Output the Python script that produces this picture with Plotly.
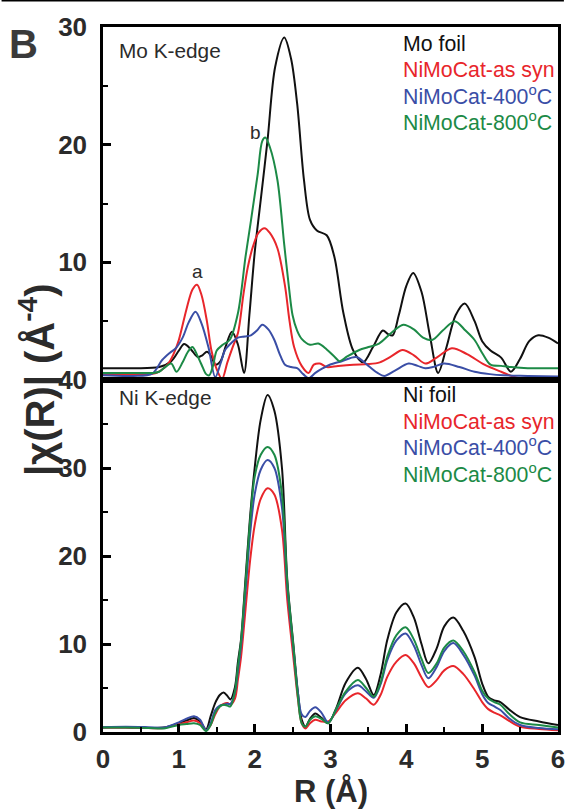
import plotly.graph_objects as go
from plotly.subplots import make_subplots

# ---------------- Mo K-edge (upper panel) ----------------
mo_foil_r = [0.0, 0.4, 0.74, 0.9, 1.0, 1.07, 1.16, 1.25, 1.31, 1.37, 1.43, 1.48, 1.55, 1.62, 1.7,
             1.78, 1.86, 1.93, 2.0, 2.08, 2.17, 2.27, 2.39, 2.48, 2.56, 2.65, 2.73, 2.82, 2.95, 3.05,
             3.17, 3.3, 3.43, 3.56, 3.69, 3.76, 3.82, 3.9, 4.0, 4.09, 4.2, 4.31, 4.42, 4.53, 4.65,
             4.77, 4.9, 5.0, 5.11, 5.25, 5.38, 5.5, 5.62, 5.74, 5.87, 6.0]
mo_foil_v = [1.0, 1.0, 1.1, 1.6, 2.5, 3.05, 2.6, 1.95, 2.1, 2.4, 2.0, 1.3, 1.6, 2.9, 4.1,
             3.0, 0.6, 5.5, 10.8, 15.3, 20.4, 26.6, 29.1, 27.3, 23.5, 17.0, 13.6, 12.7, 12.3, 10.5,
             5.7, 2.5, 1.5, 2.8, 4.2, 3.9, 3.8, 5.5, 8.0, 9.1, 7.5, 3.8, 0.6, 2.8, 5.5,
             6.5, 5.0, 3.3, 2.5, 1.9, 0.7, 1.8, 3.3, 3.8, 3.6, 3.1]

mo_assyn_r = [0.0, 0.4, 0.7, 0.85, 0.93, 1.0, 1.1, 1.18, 1.24, 1.3, 1.37, 1.43, 1.5, 1.57, 1.64,
              1.71, 1.78, 1.85, 1.91, 1.98, 2.05, 2.13, 2.2, 2.3, 2.4, 2.46, 2.52, 2.62, 2.71, 2.78,
              2.86, 2.95, 3.1, 3.3, 3.5, 3.65, 3.8, 3.95, 4.1, 4.25, 4.4, 4.6, 4.8, 5.03, 5.25,
              5.46, 5.7, 6.0]
mo_assyn_v = [0.5, 0.5, 0.6, 1.3, 2.2, 3.4, 6.0, 7.7, 8.1, 7.2, 5.0, 2.5, 0.9, 0.1, 1.5,
              2.8, 4.0, 7.2, 9.6, 11.4, 12.5, 12.9, 12.5, 11.2, 8.0, 5.0, 2.8, 1.2, 0.6, 1.3,
              1.4, 1.1, 1.2, 1.3, 1.35, 1.5, 2.0, 2.55, 2.1, 1.4, 1.9, 2.7, 2.2, 1.3, 0.7,
              0.2, 0.25, 0.25]

mo_400_r = [0.0, 0.4, 0.65, 0.78, 0.88, 0.96, 1.05, 1.13, 1.22, 1.3, 1.39, 1.48, 1.55, 1.61, 1.7,
            1.78, 1.87, 1.95, 2.03, 2.1, 2.18, 2.26, 2.33, 2.4, 2.48, 2.56, 2.64, 2.71, 2.8, 2.9,
            2.99, 3.15, 3.34, 3.5, 3.62, 3.71, 3.85, 4.03, 4.15, 4.25, 4.35, 4.5, 4.7, 4.9, 5.1,
            5.28, 5.6, 6.0]
mo_400_v = [0.4, 0.35, 0.55, 1.7, 2.3, 2.7, 3.6, 4.9, 5.8, 4.8, 2.8, 0.25, 1.4, 2.55, 3.2,
            3.6, 3.7, 3.8, 4.2, 4.7, 4.3, 3.4, 2.2, 1.3, 1.1, 1.0, 0.5, 0.15, 0.6, 1.0,
            1.3, 1.6, 1.95, 1.2, 0.6, 0.35, 0.8, 1.4, 1.2, 1.0, 1.1, 1.4, 1.1, 0.7, 0.5,
            0.4, 0.35, 0.3]

mo_800_r = [0.0, 0.4, 0.66, 0.74, 0.82, 0.9, 0.97, 1.05, 1.12, 1.18, 1.25, 1.3, 1.36, 1.4, 1.45,
            1.5, 1.58, 1.67, 1.78, 1.88, 1.95, 2.04, 2.1, 2.14, 2.2, 2.3, 2.39, 2.45, 2.5, 2.56,
            2.62, 2.73, 2.84, 2.95, 3.05, 3.12, 3.22, 3.38, 3.5, 3.64, 3.8, 3.96, 4.1, 4.22, 4.34,
            4.48, 4.64, 4.78, 4.9, 5.0, 5.11, 5.25, 5.38, 5.6, 6.0]
mo_800_v = [0.6, 0.6, 0.6, 0.7, 1.1, 1.4, 0.7, 1.5, 2.4, 2.8, 2.0, 1.3, 0.5, 0.4, 1.2,
            2.5, 3.0, 3.4, 5.7, 10.5, 13.5, 17.5, 20.3, 20.6, 19.8, 17.0, 11.5, 8.0, 5.5, 4.2,
            3.5, 3.0, 3.1, 2.6, 2.0, 1.6, 2.0, 2.55, 2.8, 3.1, 4.0, 4.7, 4.3, 3.6, 3.4,
            4.2, 5.0, 4.2, 3.4, 2.3, 1.3, 1.2, 1.1, 1.0, 1.0]

# ---------------- Ni K-edge (lower panel) ----------------
ni_r = [0.0, 0.3, 0.6, 0.8, 1.0, 1.1, 1.2, 1.28, 1.36, 1.42, 1.48, 1.54, 1.59, 1.64, 1.68,
        1.74, 1.78, 1.82, 1.88, 1.94, 2.0, 2.08, 2.17, 2.26, 2.36, 2.43, 2.51, 2.57, 2.62, 2.67,
        2.73, 2.8, 2.88, 2.97, 3.08, 3.2, 3.36, 3.47, 3.57, 3.66, 3.75, 3.87, 3.99, 4.1, 4.2,
        4.29, 4.4, 4.5, 4.62, 4.75, 4.9, 5.0, 5.08, 5.16, 5.24, 5.35, 5.5, 5.75, 6.0]
ni_foil_v = [0.5, 0.5, 0.45, 0.5, 1.0, 1.3, 1.6, 1.2, 0.3, 1.8, 3.3, 4.2, 4.5, 4.1, 3.7,
             5.1, 8.0, 10.5, 17.5, 24.5, 30.0, 35.5, 38.3, 36.5, 30.0, 17.3, 10.0, 4.5, 1.4, 0.6,
             1.5, 2.1, 1.6, 1.0, 2.8, 5.6, 7.3, 6.0, 4.2, 6.5, 10.5, 13.6, 14.6, 13.0, 10.0,
             7.8, 9.5, 12.0, 13.0, 11.5, 8.5, 5.5, 4.0, 3.6, 3.4, 2.6, 1.7, 1.2, 0.8]
ni_assyn_v = [0.5, 0.5, 0.45, 0.45, 0.9, 1.1, 1.3, 1.0, 0.2, 0.8, 2.0, 2.9, 3.2, 3.3, 3.1,
              3.8, 6.0, 8.5, 14.0, 19.5, 23.5, 26.5, 27.7, 27.0, 23.0, 15.0, 8.5, 3.8, 1.0, 0.4,
              1.0, 1.4, 1.2, 1.2, 2.3, 3.6, 4.4, 3.8, 3.1, 4.2, 6.3, 8.0, 8.75, 7.8, 6.2,
              5.1, 5.9, 7.0, 7.5, 6.6, 4.8, 3.4, 2.6, 2.2, 1.9, 1.3, 0.6, 0.35, 0.2]
ni_400_v = [0.55, 0.6, 0.55, 0.5, 1.1, 1.5, 1.8, 1.4, 0.2, 1.0, 2.5, 3.0, 3.1, 3.2, 3.2,
            4.5, 7.0, 9.8, 16.0, 22.5, 27.0, 29.8, 30.9, 30.0, 25.5, 16.5, 9.5, 4.5, 2.0, 1.7,
            2.4, 2.8, 2.2, 1.1, 2.6, 4.4, 5.3, 4.6, 3.9, 5.4, 8.2, 10.4, 11.2, 9.8, 7.6,
            6.1, 7.4, 9.2, 10.1, 8.8, 6.4, 4.3, 3.3, 2.9, 2.5, 1.6, 0.8, 0.45, 0.3]
ni_800_v = [0.5, 0.5, 0.45, 0.4, 0.8, 0.9, 1.0, 0.8, 0.1, 0.8, 2.2, 2.9, 3.1, 3.0, 2.9,
            4.6, 7.5, 10.3, 17.0, 24.0, 29.0, 31.5, 32.4, 31.5, 27.0, 17.0, 9.8, 4.0, 1.0, 0.6,
            1.4, 1.8, 1.5, 1.0, 2.7, 4.6, 5.9, 5.0, 4.0, 5.6, 8.6, 11.0, 11.9, 10.5, 8.3,
            6.7, 7.8, 9.6, 10.4, 9.2, 6.8, 4.7, 3.8, 3.4, 3.1, 2.1, 1.1, 0.8, 0.5]

mo_names = ["Mo foil", "NiMoCat-as syn", "NiMoCat-400<sup>o</sup>C", "NiMoCat-800<sup>o</sup>C"]
ni_names = ["Ni foil", "NiMoCat-as syn", "NiMoCat-400<sup>o</sup>C", "NiMoCat-800<sup>o</sup>C"]
x_ticks = [0, 1, 2, 3, 4, 5, 6]

BLACK = "#111111"
RED = "#e8262b"
BLUE = "#3a4ea6"
GREEN = "#1c8a46"
colors = [BLACK, RED, BLUE, GREEN]
TEXT = "#2b2b2b"
FONT = "Liberation Sans, Arial, sans-serif"

# plot area in pixels: x 103..565, y 27..732
W, H = 571, 811
ML, MR, MT, MB = 103, 6, 27, 79
PW, PH = W - ML - MR, H - MT - MB
split = (732 - 380) / PH

fig = make_subplots(rows=2, cols=1, shared_xaxes=True, vertical_spacing=0)

mo_series = [(mo_foil_r, mo_foil_v), (mo_assyn_r, mo_assyn_v), (mo_400_r, mo_400_v), (mo_800_r, mo_800_v)]
for (r, v), c, n in zip(mo_series, colors, mo_names):
    fig.add_trace(go.Scatter(x=r, y=v, mode="lines", name=n, showlegend=False,
                             line=dict(color=c, width=2, shape="spline", smoothing=0.9)),
                  row=1, col=1)

ni_series = [ni_foil_v, ni_assyn_v, ni_400_v, ni_800_v]
for v, c, n in zip(ni_series, colors, ni_names):
    fig.add_trace(go.Scatter(x=ni_r, y=v, mode="lines", name=n, showlegend=False,
                             line=dict(color=c, width=2, shape="spline", smoothing=0.9)),
                  row=2, col=1)

axis_line = dict(showline=True, linecolor="black", linewidth=2.5, mirror=True,
                 showgrid=False, zeroline=False)
tickfont = dict(family=FONT, size=26, color=TEXT, weight="bold")

fig.update_xaxes(range=[0, 6], **axis_line)
fig.update_xaxes(ticks="", showticklabels=False, row=1, col=1)
fig.update_xaxes(tickvals=x_ticks, ticks="inside", ticklen=8, tickwidth=2.5, tickcolor="black",
                 minor=dict(ticks="inside", ticklen=5, tickwidth=2, tickcolor="black", dtick=0.5, tick0=0),
                 tickfont=tickfont, ticklabelstandoff=2, row=2, col=1)

fig.update_yaxes(**axis_line)
fig.update_yaxes(range=[0, 30], domain=[split, 1], tickvals=[10, 20, 30], ticks="inside",
                 ticklen=8, tickwidth=2.5, tickcolor="black",
                 minor=dict(ticks="inside", ticklen=5, tickwidth=2, tickcolor="black", tickvals=[5, 15, 25]),
                 tickfont=tickfont, ticklabelstandoff=8, row=1, col=1)
fig.update_yaxes(range=[0, 40], domain=[0, split], tickvals=[0, 10, 20, 30, 40], ticks="inside",
                 ticklen=8, tickwidth=2.5, tickcolor="black",
                 minor=dict(ticks="inside", ticklen=5, tickwidth=2, tickcolor="black", tickvals=[5, 15, 25, 35]),
                 tickfont=tickfont, ticklabelstandoff=8, row=2, col=1)

ann = []
# panel labels
ann.append(dict(x=0.18, y=28.0, xref="x", yref="y", text="Mo K-edge", showarrow=False,
                xanchor="left", yanchor="middle", font=dict(family=FONT, size=20.8, color=TEXT)))
ann.append(dict(x=0.18, y=38.0, xref="x2", yref="y2", text="Ni K-edge", showarrow=False,
                xanchor="left", yanchor="middle", font=dict(family=FONT, size=20.8, color=TEXT)))
# peak markers
ann.append(dict(x=1.25, y=9.2, xref="x", yref="y", text="a", showarrow=False,
                font=dict(family=FONT, size=19, color=TEXT)))
ann.append(dict(x=2.01, y=21.0, xref="x", yref="y", text="b", showarrow=False,
                font=dict(family=FONT, size=19, color=TEXT)))
# series labels
mo_label_y = [28.55, 26.35, 24.2, 22.0]
ni_label_y = [38.3, 35.2, 32.4, 29.4]
for n, c, yv in zip(mo_names, colors, mo_label_y):
    ann.append(dict(x=3.935, y=yv, xref="x", yref="y", text=n, showarrow=False,
                    xanchor="left", yanchor="middle", font=dict(family=FONT, size=21.3, color=c)))
for n, c, yv in zip(ni_names, colors, ni_label_y):
    ann.append(dict(x=3.935, y=yv, xref="x2", yref="y2", text=n, showarrow=False,
                    xanchor="left", yanchor="middle", font=dict(family=FONT, size=21.3, color=c)))
# axis titles
ann.append(dict(x=0.5, y=(732 - 792) / PH, xref="paper", yref="paper",
                text="R (Å)", showarrow=False, xanchor="center", yanchor="middle",
                font=dict(family=FONT, size=31, color=TEXT, weight="bold")))
ann.append(dict(x=(37 - ML) / PW, y=split, xref="paper", yref="paper",
                text="|χ(R)| (Å<sup>-4</sup>)", showarrow=False, textangle=-90,
                xanchor="center", yanchor="middle",
                font=dict(family=FONT, size=40, color=TEXT, weight="bold")))
# figure letter
ann.append(dict(x=(22 - ML) / PW, y=(732 - 44) / PH, xref="paper", yref="paper",
                text="B", showarrow=False, xanchor="center", yanchor="middle",
                font=dict(family=FONT, size=40, color="#3a3a3a", weight="bold")))

fig.update_layout(
    width=W, height=H,
    margin=dict(l=ML, r=MR, t=MT, b=MB),
    paper_bgcolor="white", plot_bgcolor="white",
    annotations=ann,
    shapes=[dict(type="line", xref="paper", yref="paper",
                 x0=-ML / PW, x1=(W - ML) / PW, y0=(732 - 0.5) / PH, y1=(732 - 0.5) / PH,
                 line=dict(color="black", width=2))],
)

fig.write_html("out.html")
